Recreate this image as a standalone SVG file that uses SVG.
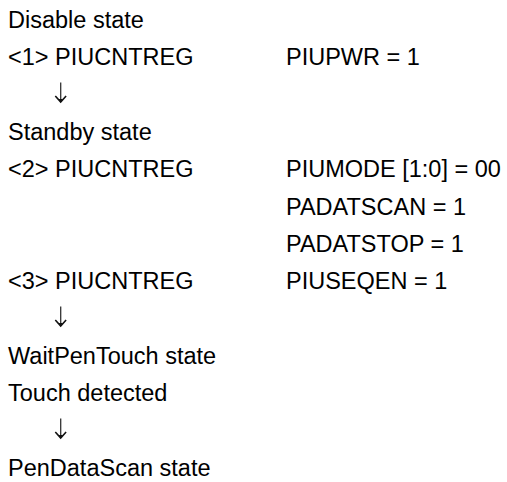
<svg xmlns="http://www.w3.org/2000/svg" width="507" height="482" viewBox="0 0 507 482">
<style>
text{font-family:"Liberation Sans",Arial,sans-serif;font-size:23.5px;fill:#000}
.stem{stroke:#333;stroke-width:1.3;fill:none}
.head{stroke:#111;stroke-width:1.6;fill:none;stroke-linejoin:miter}
</style>
<defs>
<g id="down">
<line class="stem" x1="0" y1="0" x2="0" y2="19"/>
<path class="head" d="M-5.4,13.5 L0,19.5 L5.4,13.5"/>
<path d="M-2,16.5 L0,20 L2,16.5 Z" fill="#111"/>
</g>
</defs>
<rect width="507" height="482" fill="#fff"/>
<g id="disable"><text x="8" y="28">Disable state</text></g>
<g id="step1"><text x="8" y="65.3">&lt;1&gt; PIUCNTREG</text><text x="286" y="65.3">PIUPWR = 1</text></g>
<g id="standby"><text x="8" y="140">Standby state</text></g>
<g id="step2"><text x="8" y="177.3">&lt;2&gt; PIUCNTREG</text><text x="286" y="177.3">PIUMODE [1:0] = 00</text><text x="286" y="214.7">PADATSCAN = 1</text><text x="286" y="252">PADATSTOP = 1</text></g>
<g id="step3"><text x="8" y="289.3">&lt;3&gt; PIUCNTREG</text><text x="286" y="289.3">PIUSEQEN = 1</text></g>
<g id="waitpen"><text x="8" y="364">WaitPenTouch state</text></g>
<g id="touch"><text x="8" y="401.3">Touch detected</text></g>
<g id="pendata"><text x="8" y="476">PenDataScan state</text></g>
<g id="connectors">
<use href="#down" x="60.7" y="82.5"/>
<use href="#down" x="60.7" y="306.5"/>
<use href="#down" x="60.7" y="418.5"/>
</g>
</svg>
